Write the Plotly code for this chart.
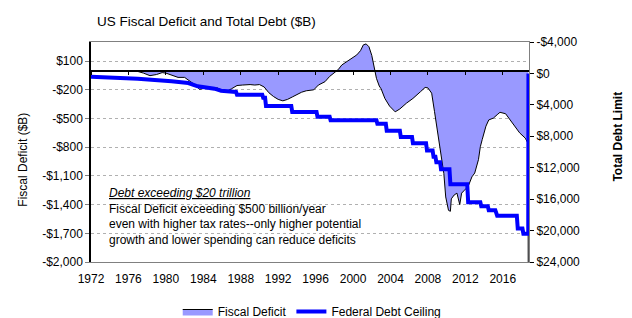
import plotly.graph_objects as go

# ---------------- data ----------------
deficit_years = [1974.0, 1975.0, 1976.0, 1977.0, 1977.6, 1978.3, 1979.0, 1979.6, 1980.0, 1980.6,
                 1981.3, 1982.0, 1982.4, 1983.1, 1983.6, 1984.0, 1984.5, 1985.0, 1985.5, 1986.0,
                 1986.5, 1987.0, 1987.6, 1988.2, 1989.0, 1989.5, 1990.0, 1990.5, 1991.0, 1991.5,
                 1992.0, 1992.5, 1993.0, 1993.5, 1994.0, 1994.5, 1995.0, 1995.8, 1996.3, 1997.0,
                 1997.5, 1998.0, 1998.4, 1998.8, 1999.3, 1999.8, 2000.4, 2000.8, 2001.1, 2001.4,
                 2001.7, 2002.0, 2002.3, 2002.5, 2002.8, 2003.0, 2003.4, 2003.9, 2004.5, 2005.0,
                 2005.7, 2006.4, 2007.2, 2007.7, 2008.0, 2008.4, 2008.7, 2009.1, 2009.4, 2009.7,
                 2009.9, 2010.2, 2010.4, 2010.5, 2010.8, 2011.1, 2011.4, 2011.6, 2011.9, 2012.3,
                 2012.7, 2013.0, 2013.4, 2013.6, 2013.8, 2014.2, 2014.5, 2015.0, 2015.4, 2015.7,
                 2016.3, 2016.8, 2017.3, 2017.8, 2018.4, 2018.7, 2018.72]
deficit_values = [-5, -8, -8, -8, -25, -52, -40, -20, -25, -49,
                  -70, -70, -95, -147, -195, -185, -175, -185, -180, -205,
                  -215, -190, -155, -150, -145, -150, -145, -170, -230, -270,
                  -300, -315, -300, -275, -250, -225, -210, -200, -150, -115,
                  -60, -20, 10, 60, 95, 130, 165, 210, 270, 280,
                  250, 160, 20, -80, -160, -190, -290, -370, -430, -400,
                  -340, -290, -220, -175, -180, -235, -425, -700, -900, -1075,
                  -1320, -1460, -1470, -1340, -1300, -1280, -1400, -1280, -1250, -1210,
                  -1110, -1070, -930, -795, -720, -580, -515, -495, -460, -435,
                  -450, -515, -580, -650, -705, -760, -2400]

debt_years = [1972.0, 1977.0, 1980.6, 1982.4, 1983.4, 1985.2, 1985.9, 1987.5, 1987.6, 1990.3,
              1990.4, 1990.6, 1990.7, 1993.4, 1993.5, 1996.1, 1996.2, 1997.5, 1997.6, 2002.5,
              2002.6, 2003.5, 2003.6, 2005.0, 2005.1, 2006.3, 2006.4, 2007.8, 2007.9, 2008.5,
              2008.6, 2008.8, 2008.9, 2009.3, 2009.4, 2010.3, 2010.4, 2012.2, 2012.3, 2013.6,
              2013.7, 2014.4, 2014.5, 2015.2, 2015.4, 2017.5, 2017.6, 2018.1, 2018.2, 2018.72,
              2018.74]
debt_values = [420, 670, 1000, 1220, 1640, 1940, 2200, 2360, 2700, 2700,
               3100, 3100, 4145, 4145, 4900, 4900, 5500, 5500, 5950, 5950,
               6400, 6400, 7300, 7300, 8100, 8100, 8900, 8900, 9800, 9800,
               10600, 10600, 11300, 11300, 12200, 12200, 14100, 14100, 16400, 16400,
               16900, 16900, 17400, 17400, 18100, 18100, 19750, 19750, 20400, 20400,
               0]

x_tick_vals = [1972, 1976, 1980, 1984, 1988, 1992, 1996, 2000, 2004, 2008, 2012, 2016]
left_tick_vals = [100, -200, -500, -800, -1100, -1400, -1700, -2000]
left_tick_text = ["$100", "-$200", "-$500", "-$800", "-$1,100", "-$1,400", "-$1,700", "-$2,000"]
right_tick_vals = [-4000, 0, 4000, 8000, 12000, 16000, 20000, 24000]
right_tick_text = ["-$4,000", "$0", "$4,000", "$8,000", "$12,000", "$16,000", "$20,000", "$24,000"]

x_range = [1972, 2018.8]
left_range = [-2000, 300]
right_range = [24000, -4000]

FONT = "Arial, Liberation Sans, sans-serif"

fig = go.Figure()
fig.add_trace(go.Scatter(
    x=deficit_years, y=deficit_values, name="Fiscal Deficit",
    mode="lines", fill="tozeroy", fillcolor="#9999FF",
    line=dict(color="black", width=1), xaxis="x", yaxis="y"))
fig.add_trace(go.Scatter(
    x=debt_years, y=debt_values, name="Federal Debt Ceiling",
    mode="lines", line=dict(color="#0000FF", width=4), xaxis="x2", yaxis="y2"))

zero_frac = (0 - left_range[0]) / (left_range[1] - left_range[0])

# the page body has an 8px margin, so the figure is 8px smaller and the margins compensate
fig.update_layout(
    width=624, height=310,
    margin=dict(l=83, r=103, t=34, b=56, autoexpand=False),
    paper_bgcolor="white", plot_bgcolor="white",
    font=dict(family=FONT, size=12, color="black"),
    showlegend=True,
    legend=dict(orientation="h", x=0.198, y=-0.225, xanchor="left", yanchor="middle",
                font=dict(size=12), traceorder="normal", bgcolor="rgba(0,0,0,0)",
                itemwidth=30),
    xaxis=dict(range=x_range, tickmode="array", tickvals=x_tick_vals, ticks="",
               showgrid=False, zeroline=False, showline=True, linecolor="#808080",
               linewidth=1, mirror=True, tickfont=dict(size=12), ticklabelstandoff=6),
    xaxis2=dict(range=x_range, overlaying="x", anchor="free", position=zero_frac,
                tickmode="array", tickvals=x_tick_vals, ticks="outside", ticklen=4,
                tickcolor="black", showticklabels=False, showgrid=False, zeroline=False,
                showline=True, linecolor="black", linewidth=1.5),
    yaxis=dict(range=left_range, tickmode="array", tickvals=left_tick_vals,
               ticktext=left_tick_text, ticks="outside", ticklen=4, tickcolor="#808080",
               showgrid=True, gridcolor="#B0B0B0", griddash="dot", gridwidth=1,
               zeroline=False, showline=True, linecolor="black", linewidth=1.5,
               tickfont=dict(size=12)),
    yaxis2=dict(range=right_range, overlaying="y", side="right", anchor="x2",
                tickmode="array", tickvals=right_tick_vals, ticktext=right_tick_text,
                ticks="outside", ticklen=4, tickcolor="black", showgrid=False,
                zeroline=False, showline=True, linecolor="#808080", linewidth=1,
                tickfont=dict(size=12)),
)

# white text box behind the comment (covers gridlines)
fig.add_shape(type="rect", xref="paper", yref="paper", x0=0.039, x1=0.723, y0=0.04, y1=0.37,
              fillcolor="white", line=dict(width=0), layer="between")

fig.add_annotation(
    xref="paper", yref="paper", x=0.037, y=0.355, xanchor="left", yanchor="top",
    align="left", showarrow=False, font=dict(size=12, family=FONT),
    text=("<i><u>Debt exceeding $20 trillion</u></i><br>"
          "Fiscal Deficit exceeding $500 billion/year<br>"
          "even with higher tax rates--only higher potential<br>"
          "growth and lower spending can reduce deficits"))

fig.add_annotation(xref="paper", yref="paper", x=0.0, y=1.0, xanchor="left", yanchor="bottom",
                   xshift=4, yshift=11, showarrow=False, text="US Fiscal Deficit and Total Debt ($B)",
                   font=dict(size=13.5, family=FONT))
fig.add_annotation(xref="paper", yref="paper", x=0, y=0.465, xanchor="center", yanchor="middle",
                   xshift=-68, showarrow=False, textangle=-90, text="Fiscal Deficit ($B)",
                   font=dict(size=12, family=FONT))
fig.add_annotation(xref="paper", yref="paper", x=1, y=0.57, xanchor="center", yanchor="middle",
                   xshift=89, showarrow=False, textangle=-90, text="<b>Total Debt Limit</b>",
                   font=dict(size=12, family=FONT))

fig.write_html("out.html")
